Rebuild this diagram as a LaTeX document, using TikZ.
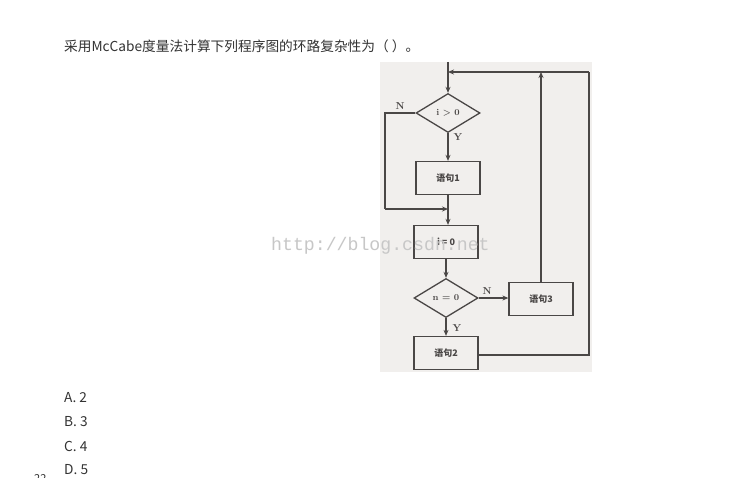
\documentclass[tikz,border=0pt]{standalone}
\usepackage{fontspec}
\newfontfamily\cjk{Noto Sans CJK SC}
\newfontfamily\wmfont{Liberation Mono}
\usetikzlibrary{arrows.meta,shapes.geometric}
\definecolor{scanbg}{HTML}{F1EFED}
\definecolor{ink}{HTML}{4A4746}
\definecolor{txt}{HTML}{333333}
\tikzset{
  x=1pt,y=-1pt,
  flow/.style={draw=ink,line width=1.3pt},
  arr/.style={flow,-{Stealth[length=6pt,width=5pt]}},
  box/.style={draw=ink,line width=1.3pt,fill=scanbg,minimum width=64pt,minimum height=33pt,inner sep=0pt,font=\cjk\bfseries\fontsize{9}{9}\selectfont,text=ink},
  dia/.style={diamond,draw=ink,line width=1.3pt,fill=scanbg,aspect=1.62,minimum width=64pt,minimum height=39pt,inner sep=0pt,font=\bfseries\fontsize{9}{9}\selectfont,text=ink},
  lab/.style={font=\bfseries\fontsize{10}{10}\selectfont,text=ink,inner sep=0pt},
  qtext/.style={font=\cjk\fontsize{13.7}{13.7}\selectfont,text=txt,inner sep=0pt,anchor=west},
}
\begin{document}
\begin{tikzpicture}
\useasboundingbox (0,0) rectangle (733,478);
\fill[white] (0,0) rectangle (733,478);
% scanned background
\fill[scanbg] (380,62) rectangle (592,372);
% question
\node[qtext] (q) at (64,46) {采用McCabe度量法计算下列程序图的环路复杂性为（ ）。};
% flowchart nodes
\node[dia] (d1) at (448,113) {i > 0};
\node[box] (s1) at (448,178) {语句1};
\node[box] (b0) at (446,242) {i = 0};
\node[dia] (d2) at (446,298) {n = 0};
\node[box] (s3) at (541,299) {语句3};
\node[box] (s2) at (446,353) {语句2};
\coordinate (top) at (448,62);
\coordinate (j1) at (448,72);
\coordinate (m) at (448,209);
\coordinate (lc) at (385,209);
\coordinate (rr) at (589,72);
\coordinate (rb) at (589,355);
\coordinate (j3) at (541,72);
% connectors
\draw[flow] (top) -- (j1);
\draw[arr] (j1) -- (d1.north);
\draw[arr] (d1.south) -- (s1.north);
\draw[flow] (s1.south) -- (m);
\draw[arr] (m) -- (b0.north -| m);
\draw[flow] (d1.west) -| (lc);
\draw[arr] (lc) -- (m);
\draw[arr] (b0.south) -- (d2.north);
\draw[arr] (d2.east) -- (d2.east -| s3.west);
\draw[arr] (d2.south) -- (s2.north);
\draw[flow] (s2.east |- rb) -- (rb) -- (rr);
\draw[arr] (rr) -- (j1);
\draw[arr] (s3.north) -- (j3);
% labels
\node[lab] (ln1) at (400,106) {N};
\node[lab] (ly1) at (458,137) {Y};
\node[lab] (ln2) at (487,291) {N};
\node[lab] (ly2) at (457,328) {Y};
% watermark
\node[font=\wmfont\fontsize{18.2}{18.2}\selectfont,text=black!22,inner sep=0pt,anchor=west] (wm) at (271,246) {http://blog.csdn.net};
% answers
\node[qtext] (a) at (64,398) {A. 2};
\node[qtext] (b) at (64,422) {B. 3};
\node[qtext] (c) at (64,446) {C. 4};
\node[qtext] (d) at (64,470) {D. 5};
\node[qtext,font=\cjk\fontsize{11}{11}\selectfont,anchor=north west] (pg) at (34,474) {22};
\end{tikzpicture}
\end{document}
